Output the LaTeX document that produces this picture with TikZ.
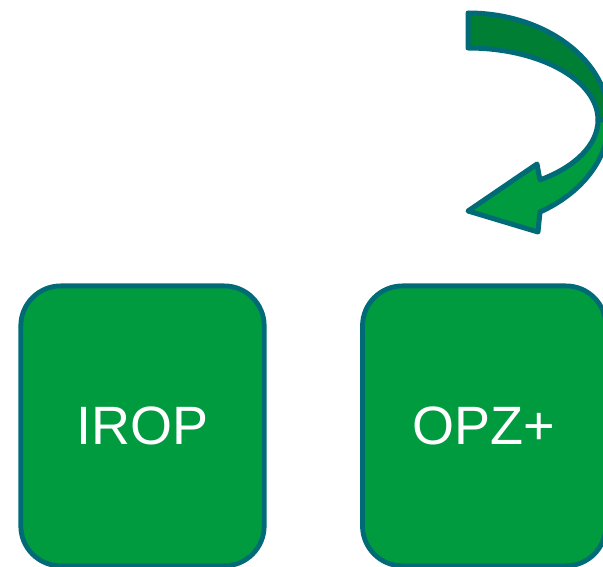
\documentclass[tikz,border=0pt]{standalone}
\usepackage{fontspec}
\setmainfont{Liberation Sans}
\definecolor{edgeteal}{RGB}{0,107,119}
\definecolor{boxgreen}{RGB}{0,154,63}
\definecolor{darkgreen}{RGB}{0,126,52}
\begin{document}
\begin{tikzpicture}[x=1pt,y=1pt,
  greenbox/.style={draw=edgeteal, fill=boxgreen, line width=4.8pt,
    rounded corners=40pt, minimum width=243.4pt, minimum height=280pt,
    inner sep=0pt, text=white, font=\fontsize{54}{60}\selectfont},
  arrowpart/.style={draw=edgeteal, line width=5pt, line join=round}]
\clip (0,0) rectangle (603,566);
\node[greenbox] (irop) at (142.5,140.1) {IROP};
\node[greenbox] (opz) at (484.2,140.1) {OPZ+};
% back (dark) band of the curved arrow
\draw[arrowpart, fill=darkgreen] (468,553)
  arc[start angle=90, end angle=0, x radius=141, y radius=107]
  -- (598,446)
  arc[start angle=0, end angle=90, x radius=130, y radius=72]
  -- cycle;
% front (light) band with arrowhead
\draw[arrowpart, fill=boxgreen] (598,446)
  arc[start angle=0, end angle=-56.4, x radius=130, y radius=72]
  -- (537,402) -- (468,355) -- (538,334) -- (540,354)
  arc[start angle=-59.3, end angle=0, x radius=141, y radius=107]
  -- cycle;
\end{tikzpicture}
\end{document}
